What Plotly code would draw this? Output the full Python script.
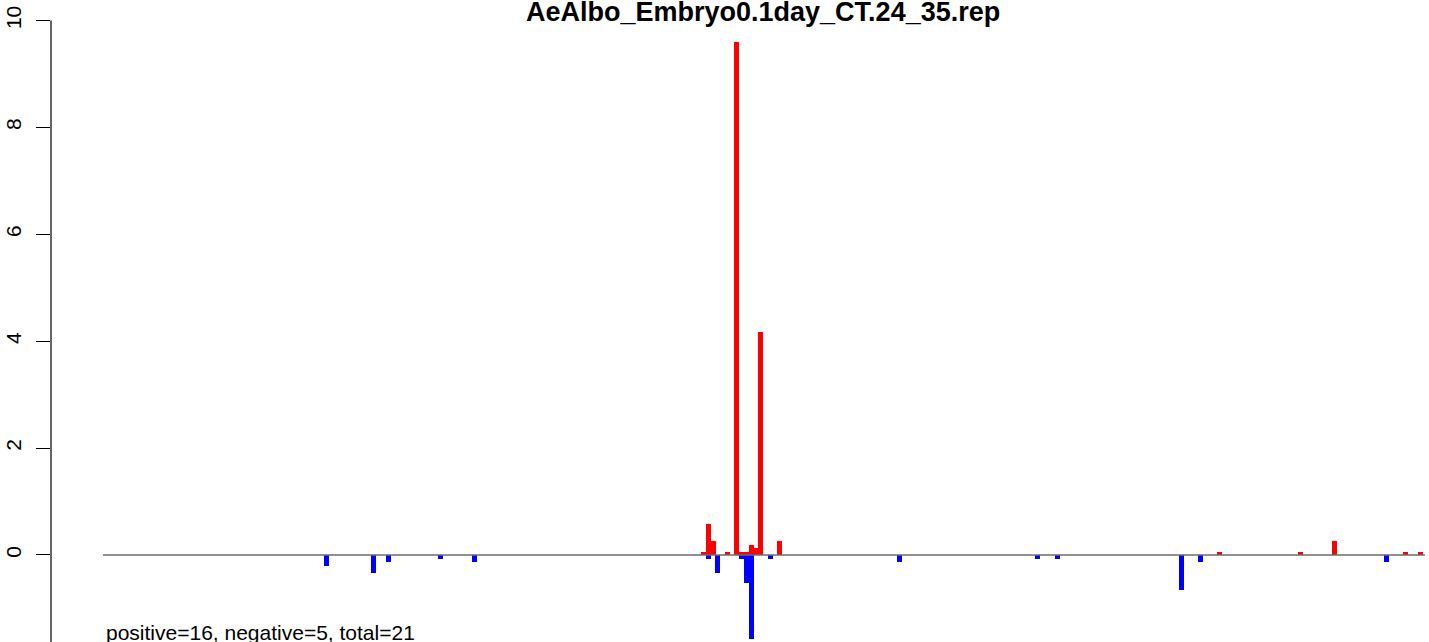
import plotly.graph_objects as go

# Bin positions (arbitrary position units) and signal values
pos_x = [126.4, 127.5, 128.5, 131.5, 133.4, 134.4, 135.5, 136.5, 137.5, 138.4,
         142.4, 235.1, 252.1, 259.3, 274.2, 277.4]
pos_y = [0.05, 0.58, 0.26, 0.05, 9.6, 0.05, 0.05, 0.19, 0.13, 4.17,
         0.26, 0.05, 0.05, 0.26, 0.05, 0.05]

neg_x = [47.1, 56.9, 60.1, 71.1, 78.2, 127.5, 129.4, 134.4, 135.5, 136.5,
         140.5, 167.7, 196.7, 200.9, 227.1, 231.1, 270.2]
neg_y = [-0.2, -0.33, -0.125, -0.07, -0.125, -0.07, -0.33, -0.07, -0.52, -1.57,
         -0.07, -0.125, -0.07, -0.07, -0.65, -0.125, -0.125]

x_extent = [0, 278.3]          # extent of the baseline
y_ticks = [0, 2, 4, 6, 8, 10]
title_text = "AeAlbo_Embryo0.1day_CT.24_35.rep"
summary_text = "positive=16, negative=5, total=21"

FONT = "Liberation Sans, Arial, Helvetica, sans-serif"
BAR_W = 1.05

fig = go.Figure()
fig.add_trace(go.Bar(x=pos_x, y=pos_y, width=BAR_W, marker=dict(color="#FF0000", line=dict(width=0)),
                     showlegend=False))
fig.add_trace(go.Bar(x=neg_x, y=neg_y, width=BAR_W, marker=dict(color="#0000FF", line=dict(width=0)),
                     showlegend=False))
fig.add_trace(go.Scatter(x=x_extent, y=[0, 0], mode="lines",
                         line=dict(color="#6b6b6b", width=1.3), showlegend=False, hoverinfo="skip"))

fig.update_layout(
    width=1429, height=642,
    margin=dict(l=51, r=0, t=0, b=0),
    paper_bgcolor="white", plot_bgcolor="white",
    barmode="overlay", bargap=0,
    font=dict(family=FONT, size=21, color="black"),
    xaxis=dict(range=[-10.947, 279.16], visible=False, fixedrange=True),
    yaxis=dict(range=[-1.628, 10.384], tickvals=y_ticks, ticktext=[str(v) for v in y_ticks],
               ticks="outside", ticklen=14, tickwidth=1, tickcolor="black",
               tickangle=-90, tickfont=dict(family=FONT, size=21, color="black"),
               ticklabelstandoff=7,
               showgrid=False, zeroline=False, showline=False, fixedrange=True),
    shapes=[dict(type="line", xref="paper", yref="y", x0=0, x1=0, y0=10, y1=-1.628,
                 line=dict(color="black", width=1.2))],
    annotations=[
        dict(text="<b>" + title_text + "</b>", xref="paper", yref="paper",
             x=(762.5 - 51) / 1378, y=1 - 12 / 642, xanchor="center", yanchor="middle",
             showarrow=False, font=dict(family=FONT, size=27, color="black")),
        dict(text=summary_text, xref="paper", yref="paper",
             x=(104 - 51) / 1378, y=1 - 632 / 642, xanchor="left", yanchor="middle",
             showarrow=False, font=dict(family=FONT, size=21, color="black")),
    ],
)

fig.write_html("out.html", config={"displayModeBar": False},
               post_script="document.body.style.margin='0';document.body.style.padding='0';")
